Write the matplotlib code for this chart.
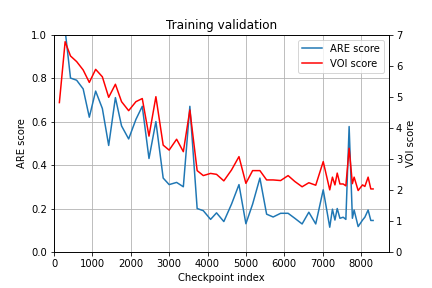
import matplotlib
matplotlib.use('Agg')
import matplotlib.pyplot as plt

# checkpoint indices
steps = [140, 290, 430, 590, 760, 920, 1085, 1260, 1425, 1600, 1760, 1945,
         2135, 2300, 2475, 2655, 2845, 3000, 3195, 3370, 3540, 3730, 3890,
         4080, 4235, 4425, 4625, 4820, 5000, 5175, 5365, 5540, 5710, 5905,
         6100, 6275, 6465, 6640, 6820, 7015, 7185, 7255, 7320, 7380, 7450,
         7535, 7605, 7690, 7775, 7820, 7925, 8040, 8100, 8185, 8255, 8315]

are_score = [1.30, 1.02, 0.80, 0.79, 0.75, 0.62, 0.74, 0.66, 0.49, 0.71, 0.58, 0.52,
             0.61, 0.67, 0.43, 0.60, 0.34, 0.31, 0.32, 0.30, 0.67, 0.20, 0.19,
             0.15, 0.18, 0.14, 0.22, 0.31, 0.13, 0.22, 0.34, 0.174, 0.161, 0.178,
             0.178, 0.155, 0.129, 0.183, 0.129, 0.286, 0.114, 0.197, 0.147, 0.20, 0.155,
             0.16, 0.15, 0.577, 0.155, 0.193, 0.117, 0.147, 0.16, 0.193, 0.145, 0.145]

voi_score = [4.81, 6.77, 6.31, 6.13, 5.86, 5.46, 5.88, 5.64, 4.98, 5.40, 4.84, 4.55,
             4.84, 4.94, 3.73, 5.00, 3.44, 3.28, 3.63, 3.23, 4.57, 2.62, 2.46,
             2.53, 2.50, 2.29, 2.64, 3.07, 2.21, 2.62, 2.62, 2.32, 2.32, 2.30,
             2.46, 2.27, 2.10, 2.23, 2.15, 2.91, 2.00, 2.41, 2.16, 2.54, 2.19,
             2.19, 2.13, 3.34, 2.20, 2.41, 1.98, 2.16, 2.11, 2.41, 2.03, 2.03]

fig, ax1 = plt.subplots(figsize=(6, 4), dpi=72)
fig.subplots_adjust(left=0.125, right=0.9, top=0.88, bottom=0.125)

l1, = ax1.plot(steps, are_score, color='#1f77b4', label='ARE score')
ax1.set_ylim(0, 1)
ax1.set_xlim(left=0)
ax1.set_xlabel('Checkpoint index')
ax1.set_ylabel('ARE score')
ax1.grid(True)
ax1.set_title('Training validation')

ax2 = ax1.twinx()
l2, = ax2.plot(steps, voi_score, color='red', label='VOI score')
ax2.set_ylim(0, 7)
ax2.set_ylabel('VOI score')

ax2.legend([l1, l2], ['ARE score', 'VOI score'], loc='upper right')

plt.savefig('out.png', dpi=72, facecolor='white')
plt.close()
